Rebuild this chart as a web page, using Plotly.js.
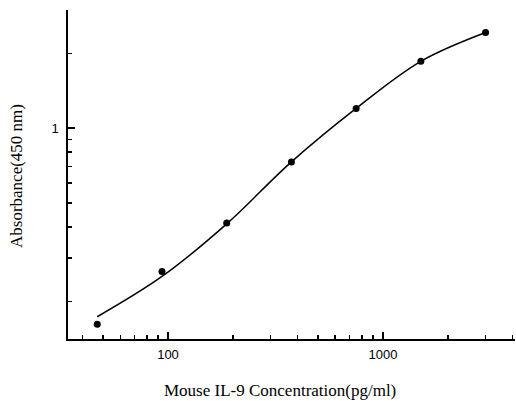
<!DOCTYPE html>
<html>
<head>
<meta charset="utf-8">
<script src="https://cdn.plot.ly/plotly-3.0.1.min.js"></script>
<style>html,body{margin:0;padding:0;background:#fff}#chart{width:516px;height:401px}</style>
</head>
<body>
<div id="chart"></div>
<script>
// Standards (pg/ml) and measured absorbance
var concentration = [46.875, 93.75, 187.5, 375, 750, 1500, 3000];
var absorbance = [0.1615, 0.264, 0.414, 0.731, 1.202, 1.862, 2.433];
// Fitted curve
var curveX = [46.875, 93.75, 187.5, 375, 750, 1500, 3000];
var curveY = [0.1733, 0.252, 0.411, 0.731, 1.202, 1.862, 2.433];
// Ticks
var xMajor = [100, 1000];
var xMajorText = ['100', '1000'];
var xMinor = [40, 50, 60, 70, 80, 90, 200, 300, 400, 500, 600, 700, 800, 900, 2000, 3000, 4000];
var yMajor = [1, 3];
var yMajorText = ['1', ''];
var yMinor = [0.2, 0.3, 0.4, 0.5, 0.6, 0.7, 0.8, 0.9, 2];

var xRange = [1.5349, 3.614];
var yRange = [-0.851, 0.477];

var traces = [
  {x: curveX, y: curveY, mode: 'lines', line: {color: '#000', width: 1.5, shape: 'spline', smoothing: 1}, hoverinfo: 'skip'},
  {x: concentration, y: absorbance, mode: 'markers', marker: {color: '#000', size: 7}},
  {x: concentration, y: absorbance, xaxis: 'x2', yaxis: 'y2', mode: 'markers', marker: {opacity: 0}, hoverinfo: 'skip'}
];

var tickFont = {family: 'Liberation Sans, Arial, sans-serif', size: 13, color: '#000'};
var layout = {
  width: 516, height: 401,
  margin: {l: 68, r: 1, t: 10, b: 62},
  paper_bgcolor: '#fff', plot_bgcolor: 'rgba(0,0,0,0)',
  showlegend: false,
  xaxis: {
    type: 'log', range: xRange,
    showline: true, linecolor: '#000', linewidth: 1.6,
    showgrid: false, zeroline: false,
    ticks: 'inside', ticklen: 7, tickwidth: 1.6, tickcolor: '#000',
    tickmode: 'array', tickvals: xMajor, ticktext: xMajorText,
    ticklabelstandoff: 3,
    tickfont: tickFont
  },
  yaxis: {
    type: 'log', range: yRange,
    showline: true, linecolor: '#000', linewidth: 1.6,
    showgrid: false, zeroline: false,
    ticks: 'inside', ticklen: 7, tickwidth: 1.6, tickcolor: '#000',
    tickmode: 'array', tickvals: yMajor, ticktext: yMajorText,
    ticklabelstandoff: 5,
    tickfont: tickFont
  },
  xaxis2: {
    type: 'log', range: xRange, overlaying: 'x', side: 'bottom', anchor: 'y2',
    showline: false, showgrid: false, zeroline: false,
    ticks: 'inside', ticklen: 4, tickwidth: 1.6, tickcolor: '#000',
    tickmode: 'array', tickvals: xMinor, showticklabels: false
  },
  yaxis2: {
    type: 'log', range: yRange, overlaying: 'y', side: 'left', anchor: 'x2',
    showline: false, showgrid: false, zeroline: false,
    ticks: 'inside', ticklen: 4, tickwidth: 1.6, tickcolor: '#000',
    tickmode: 'array', tickvals: yMinor, showticklabels: false
  },
  annotations: [
    {text: 'Mouse IL-9 Concentration(pg/ml)', xref: 'paper', yref: 'paper',
     x: (280 - 68) / 447, y: -(390 - 339) / 329, xanchor: 'center', yanchor: 'middle', showarrow: false,
     font: {family: 'Liberation Serif, Times New Roman, serif', size: 17, color: '#000'}},
    {text: 'Absorbance(450 nm)', xref: 'paper', yref: 'paper',
     x: -(68 - 16) / 447, y: (339 - 176) / 329, xanchor: 'center', yanchor: 'middle', textangle: -90, showarrow: false,
     font: {family: 'Liberation Serif, Times New Roman, serif', size: 17, color: '#000'}}
  ]
};
Plotly.newPlot('chart', traces, layout, {displayModeBar: false, staticPlot: true});
</script>
</body>
</html>
